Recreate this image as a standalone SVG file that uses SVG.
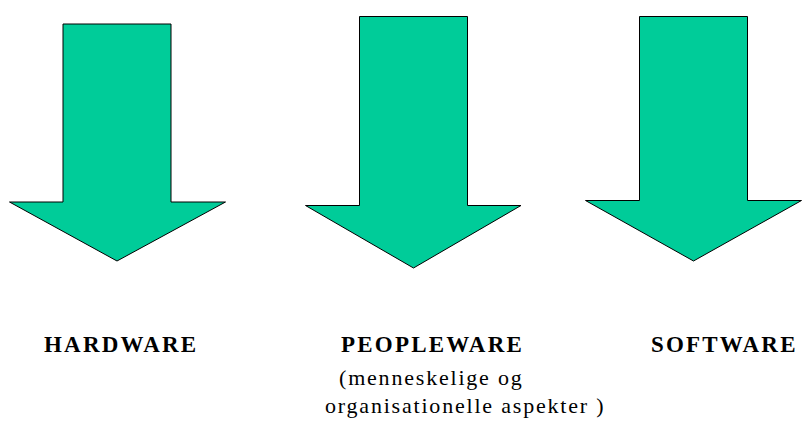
<svg xmlns="http://www.w3.org/2000/svg" width="802" height="426" viewBox="0 0 802 426">
<style>
.arrow{fill:#00CC99;stroke:#000;stroke-width:1;stroke-linejoin:miter}
.title{font-family:"Liberation Serif","Times New Roman",serif;font-weight:bold;font-size:23px;letter-spacing:2.2px;fill:#000}
.sub{font-family:"Liberation Serif","Times New Roman",serif;font-size:22px;letter-spacing:1.8px;fill:#000}
</style>
<rect width="802" height="426" fill="#fff"/>
<g id="hardware">
<polygon class="arrow" points="63,24 171,24 171,202 225.5,202 117,261 9.5,202 63,202"/>
<text class="title" x="44" y="352">HARDWARE</text>
</g>
<g id="peopleware">
<polygon class="arrow" points="359.5,16.5 467.5,16.5 467.5,205.5 521,205.5 413.5,268 305.5,205.5 359.5,205.5"/>
<text class="title" x="341" y="352">PEOPLEWARE</text>
<text class="sub" x="339" y="385">(menneskelige og</text>
<text class="sub" x="325" y="413">organisationelle aspekter )</text>
</g>
<g id="software">
<polygon class="arrow" points="639.5,16.5 747.5,16.5 747.5,200.5 801.5,200.5 693.5,261 585.5,200.5 639.5,200.5"/>
<text class="title" x="651" y="352">SOFTWARE</text>
</g>
<g id="connectors"/>
</svg>
